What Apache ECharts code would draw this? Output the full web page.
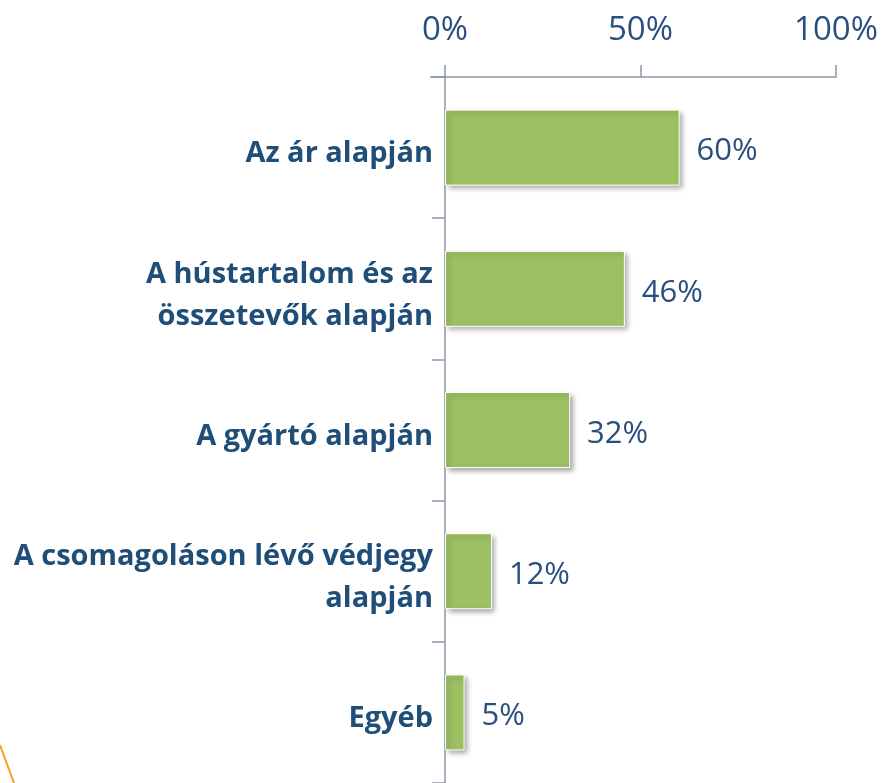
<!DOCTYPE html>
<html>
<head>
<meta charset="utf-8">
<script src="https://cdn.jsdelivr.net/npm/echarts@6/dist/echarts.min.js"></script>
<style>
  html, body { margin: 0; padding: 0; background: #fff; }
  #chart { width: 881px; height: 783px; }
</style>
</head>
<body>
<div id="chart"></div>
<script>
const categories = [
  'Az ár alapján',
  'A hústartalom és az\nösszetevők alapján',
  'A gyártó alapján',
  'A csomagoláson lévő védjegy\nalapján',
  'Egyéb'
]
const values = [60, 46, 32, 12, 5]
const xTicks = [0, 50, 100]

const textColor = '#1f4e79'
const axisColor = '#8d98a5'

const chart = echarts.init(document.getElementById('chart'))
const option = {
  animation: false,
  grid: {
    left: 445,
    top: 77,
    width: 391,
    height: 713
  },
  xAxis: {
    type: 'value',
    position: 'top',
    min: xTicks[0],
    max: xTicks[xTicks.length - 1],
    interval: xTicks[1] - xTicks[0],
    axisLine: { show: true, lineStyle: { color: axisColor, width: 1.5 } },
    axisTick: { show: true, length: 12, lineStyle: { color: axisColor, width: 1.5 } },
    splitLine: { show: false },
    axisLabel: {
      formatter: '{value}%',
      color: '#2a4f7e',
      fontSize: 33,
      fontFamily: 'Open Sans',
      margin: 30
    }
  },
  yAxis: {
    type: 'category',
    inverse: true,
    data: categories,
    axisLine: { show: true, lineStyle: { color: axisColor, width: 1.5 } },
    axisTick: { show: true, length: 13, lineStyle: { color: axisColor, width: 1.5 } },
    axisLabel: {
      margin: 12,
      align: 'right',
      // 文字略低于类目中心
      formatter: v => v.split('\n').map(s => '{a|' + s + '}').join('\n'),
      rich: {
        a: {
          color: textColor,
          fontSize: 29,
          fontWeight: 'bold',
          fontFamily: 'Open Sans',
          lineHeight: 42,
          verticalAlign: 'bottom'
        }
      }
    }
  },
  series: [
    {
      type: 'bar',
      data: values,
      barWidth: 76,
      itemStyle: {
        color: '#9dc063',
        borderColor: '#ffffff',
        borderWidth: 1,
        shadowBlur: 5,
        shadowOffsetX: 3,
        shadowOffsetY: 3,
        shadowColor: 'rgba(0,0,0,0.35)'
      },
      label: {
        show: true,
        position: 'right',
        distance: 17,
        offset: [0, 4],
        formatter: '{c}%',
        color: '#2a4f7e',
        fontSize: 31,
        fontFamily: 'Open Sans'
      }
    }
  ],
  graphic: [
    {
      type: 'line',
      shape: { x1: 430, y1: 77, x2: 445, y2: 77 },
      style: { stroke: axisColor, lineWidth: 1.5 }
    },
    {
      type: 'line',
      shape: { x1: 0, y1: 745, x2: 14, y2: 783 },
      style: { stroke: '#f3a51f', lineWidth: 2 }
    }
  ]
}
chart.setOption(option)
</script>
</body>
</html>
